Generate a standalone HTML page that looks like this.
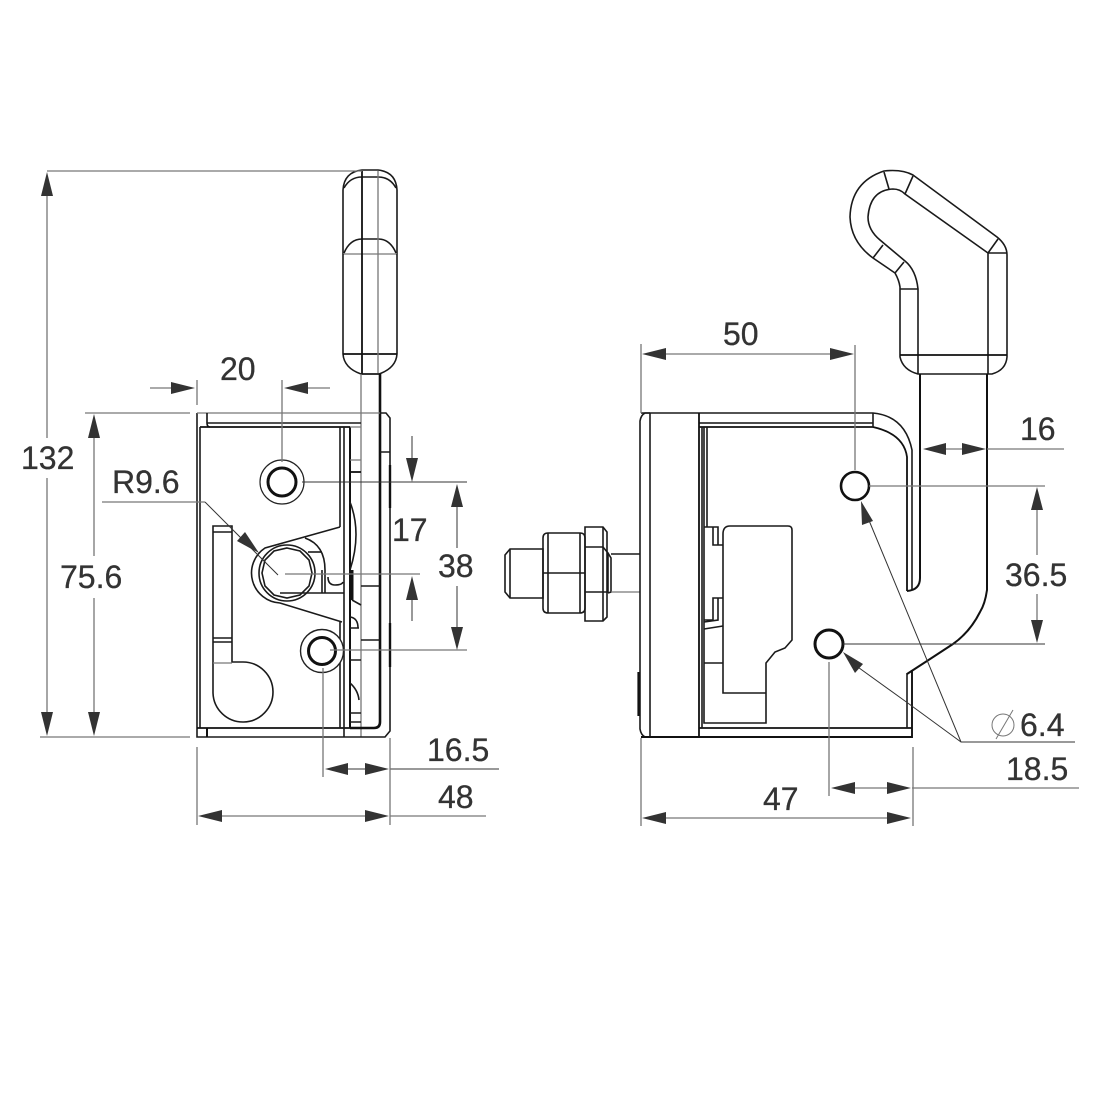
<!DOCTYPE html>
<html>
<head>
<meta charset="utf-8">
<style>
html,body{margin:0;padding:0;background:#fff;width:1093px;height:1093px;overflow:hidden}
svg{display:block}
text{font-family:"Liberation Sans",sans-serif;font-size:32px;fill:#333;stroke:#333;stroke-width:.3}
.k{fill:none;stroke:#1a1a1a;stroke-width:1.6}
.b{fill:none;stroke:#111;stroke-width:2.6}
.t{fill:none;stroke:#333;stroke-width:1}
.g{fill:none;stroke:#777;stroke-width:1.3}
.a{fill:#333;stroke:none}
</style>
</head>
<body>
<svg width="1093" height="1093" viewBox="0 0 1093 1093" xmlns="http://www.w3.org/2000/svg">
<rect width="1093" height="1093" fill="#fff"/>

<!-- LEFT VIEW: handle -->
<path class="k" d="M343 254V190Q344 172 362 170H378Q396 172 397 190V254"/>
<path class="k" d="M344 188Q350 177 362 177H378Q390 177 396 188"/>
<path class="k" d="M344 253Q350 239 362 239H378Q390 239 396 253"/>
<path class="g" d="M343 254H397"/>
<path class="k" d="M343 254V354Q344 368 361 374H379Q396 368 397 354V254"/>
<path class="b" d="M343 354H397" style="stroke-width:1.8"/>
<path class="b" d="M362 171V374" style="stroke-width:1.8"/>
<path class="g" d="M378 171V374"/>
<path class="k" d="M361 374H380"/>
<path class="g" d="M361 374V737"/>
<path class="b" d="M380 374V722Q380 728 374 728H350"/>

<!-- LEFT VIEW: body -->
<path class="k" d="M197 413V737H385L390 731V418L386 413H380"/>
<path class="g" d="M197 413H380"/>
<path class="b" d="M207 413V423Q207 427 210 427" style="stroke-width:1.6"/>
<path class="k" d="M207 423H361"/>
<path class="b" d="M200 427H350" style="stroke-width:1.8"/>
<path class="k" d="M200 427V728"/>
<path class="b" d="M197 728H350" style="stroke-width:1.8"/>
<path class="b" d="M207 728V737" style="stroke-width:2"/>
<path class="k" d="M340 427V527M340 622V728"/>
<path class="k" d="M344 427V737"/>
<path class="b" d="M350 427V728" style="stroke-width:2"/>
<path class="g" d="M361 427H350M350 460H361"/>
<path class="b" d="M350 472H361" style="stroke-width:1.8"/>
<path class="k" d="M380 452H390M361 586H380M361 640H380"/>
<path class="k" d="M350 502Q362 533 350 570"/>
<path class="b" d="M352 570V600" style="stroke-width:3"/>
<path class="k" d="M352 600L361 605M350 617Q358 618 358 628M350 628H359"/>
<path class="k" d="M350 660H361M350 683Q358 690 359 700M350 713H361M350 722H361" />
<path class="b" d="M390 465V508M390 623V667" style="stroke-width:2.4"/>

<!-- slot -->
<path class="k" d="M213 526H232V662H243A30 30 0 1 1 213 693Z"/>
<path class="k" d="M213 532H232M213 638H232M213 642H232"/>
<path class="g" d="M213 663H232"/>

<!-- pivot -->
<path class="k" d="M340 527L265 548A30 30 0 0 0 280 603L342 622"/>
<circle class="k" cx="287" cy="573" r="28"/>
<path class="k" d="M287 548l13 3 9 9 3 13-3 13-9 9-13 3-13-3-9-9-3-13 3-13 9-9z"/>
<path class="k" d="M305 538Q325 545 325 570V593M322 593V570"/>
<path class="k" d="M308 552H322"/>
<path class="k" d="M280 593H344"/>
<path class="k" d="M328 577Q328 585 335 585Q342 585 343 582"/>

<!-- bolts -->
<circle cx="282" cy="482" r="22" fill="#fff" stroke="#222" stroke-width="1.2"/>
<circle cx="282" cy="482" r="14" fill="none" stroke="#111" stroke-width="3"/>
<circle cx="322" cy="651" r="21.5" fill="#fff" stroke="#222" stroke-width="1.4"/>
<circle cx="322" cy="651" r="13.5" fill="none" stroke="#111" stroke-width="3"/>

<!-- RIGHT VIEW: stud -->
<path class="k" d="M505 555L510 549H543V598H510L505 592Z"/>
<path class="k" d="M510 549V598"/>
<path class="k" d="M543 538Q543 533 548 533H580Q585 533 585 538V608Q585 613 580 613H548Q543 613 543 608Z"/>
<path class="k" d="M548 533V613M580 533V613M543 573H585"/>
<path class="k" d="M585 527H603L607 532V617L603 621H585Z"/>
<path class="k" d="M585 547H603L608 553V592H585"/>
<path class="k" d="M603 527V621M608 553L611 558V592L608 593"/>
<path class="k" d="M611 554H640"/>
<path class="g" d="M611 592H640"/>

<!-- RIGHT VIEW: body -->
<path class="k" d="M650 413H645Q641 415 640 421V729Q641 735 645 737H650"/>
<path class="k" d="M650 413V737"/>
<path class="b" d="M638.500 672V716" style="stroke-width:2.2"/>
<path class="k" d="M641 413H873Q905 416 912 450V590"/>
<path class="b" d="M641 737H912V670" style="stroke-width:1.9"/>
<path class="b" d="M699 413V737" style="stroke-width:1.8"/>
<path class="b" d="M699 423H873" style="stroke-width:1.4"/>
<path class="b" d="M699 427H873Q904 434 907 457V591" style="stroke-width:1.8"/>
<path class="b" d="M699 728H912" style="stroke-width:1.8"/>
<path class="k" d="M873 413V427"/>
<path class="k" d="M907 673V728"/>
<path class="k" d="M702 427V728M704 427V527M707 427V527"/>
<path class="k" d="M704 527V723H766V663L775 652L785 648L792 640V530Q792 526 788 526H730Q723 526 723 534V693H766"/>
<path class="k" d="M704 527H718V545H723M713 527V545H718"/>
<path class="k" d="M723 598H713V620H704M718 598V620L704 622M704 629L723 626M704 663H723"/>

<!-- RIGHT VIEW: handle -->
<path class="k" d="M900 357V287Q899 280 895 273L873 258Q851 242 850 217Q851 182 884 171Q902 169 913 175L997 237Q1007 245 1007 255V357Q1006 370 992 374H918Q903 370 900 357Z"/>
<path class="k" d="M918 374V289Q916 270 905 261L880 240Q868 230 868 217Q870 190 893 189Q900 189 905 194L988 253V374"/>
<path class="b" d="M900 355H1007" style="stroke-width:1.8"/>
<path class="k" d="M900 289H918M988 253H1007M988 253L998 239M905 194L913 176M889 189L884 172M873 258L883 245M895 273L904 262"/>
<path class="b" d="M920 374V578Q920 590 907 591" style="stroke-width:2"/>
<path class="b" d="M987 374V590Q985 604 980 612Q970 632 953 644L927 661L907 674" style="stroke-width:2"/>

<!-- holes -->
<circle cx="855" cy="486" r="14" fill="#fff" stroke="#111" stroke-width="2.6"/>
<circle cx="829" cy="644" r="14" fill="#fff" stroke="#111" stroke-width="3"/>

<!-- DIMENSIONS LEFT -->
<path class="g" d="M47 171H362M40 737H190M47 196V438M47 478V712"/>
<polygon class="a" points="47,172 41,196 53,196"/>
<polygon class="a" points="47,736 41,712 53,712"/>
<text x="21" y="469">132</text>

<path class="g" d="M85 413H190M94 437V556M94 598V712"/>
<polygon class="a" points="94,414 88,438 100,438"/>
<polygon class="a" points="94,736 88,712 100,712"/>
<text x="60" y="588">75.6</text>

<path class="g" d="M150 388H172M197 380V405M306 388H330M282 380V462"/>
<polygon class="a" points="195,388 171,382 171,394"/>
<polygon class="a" points="284,388 308,382 308,394"/>
<text x="220" y="380">20</text>

<text x="112" y="493">R9.6</text>
<path class="g" d="M102 502H205"/>
<path class="t" d="M205 502L278 575"/>
<polygon class="a" points="259,553 237,541 245,532"/>

<path class="t" d="M302 482H467"/>
<path class="g" d="M285 574H420M330 650H467"/>
<path class="t" d="M412 436V460M412 597V621"/>
<polygon class="a" points="412,482 406,458 418,458"/>
<polygon class="a" points="412,576 406,600 418,600"/>
<text x="392" y="541">17</text>
<path class="t" d="M457 505V548M457 586V628"/>
<polygon class="a" points="457,484 451,507 463,507"/>
<polygon class="a" points="457,650 451,627 463,627"/>
<text x="438" y="577">38</text>

<path class="g" d="M323 668V777"/>
<path class="t" d="M347 769H365M390 769H499"/>
<polygon class="a" points="325,769 348,763 348,775"/>
<polygon class="a" points="389,769 365,763 365,775"/>
<text x="427" y="761">16.5</text>

<path class="g" d="M197 747V825M390 738V825M222 816H366M390 816H486"/>
<polygon class="a" points="198,816 222,810 222,822"/>
<polygon class="a" points="389,816 365,810 365,822"/>
<text x="438" y="808">48</text>

<!-- DIMENSIONS RIGHT -->
<path class="g" d="M641 344V413M855 345V470M665 354H830"/>
<polygon class="a" points="642,354 666,348 666,360"/>
<polygon class="a" points="854,354 830,348 830,360"/>
<text x="723" y="345">50</text>

<path class="g" d="M946 449H962M987 449H1064"/>
<polygon class="a" points="923,449 946,443 946,455"/>
<polygon class="a" points="986,449 962,443 962,455"/>
<text x="1020" y="440">16</text>

<path class="g" d="M869 486H1045"/>
<path class="t" d="M843 644H1045"/>
<path class="g" d="M1037 510V555M1037 594V620"/>
<polygon class="a" points="1037,487 1031,510 1043,510"/>
<polygon class="a" points="1037,643 1031,620 1043,620"/>
<text x="1005" y="586">36.5</text>

<path class="t" d="M1075 742H961L868 518M961 742L905 701L855 665"/>
<polygon class="a" points="861,501 873,521 862,525"/>
<polygon class="a" points="843,652 863,664 855,673"/>
<circle cx="1003" cy="725" r="11" fill="none" stroke="#777" stroke-width="1"/>
<path d="M1013 710L996 739" stroke="#777" stroke-width="1" fill="none"/>
<text x="1020" y="736">6.4</text>

<path class="g" d="M829 662V796M854 788H888M912 788H1079"/>
<polygon class="a" points="831,788 855,782 855,794"/>
<polygon class="a" points="911,788 887,782 887,794"/>
<text x="1006" y="780">18.5</text>

<path class="g" d="M641 738V826M913 747V826M665 818H888"/>
<polygon class="a" points="642,818 666,812 666,824"/>
<polygon class="a" points="911,818 887,812 887,824"/>
<text x="763" y="810">47</text>
</svg>
</body>
</html>
